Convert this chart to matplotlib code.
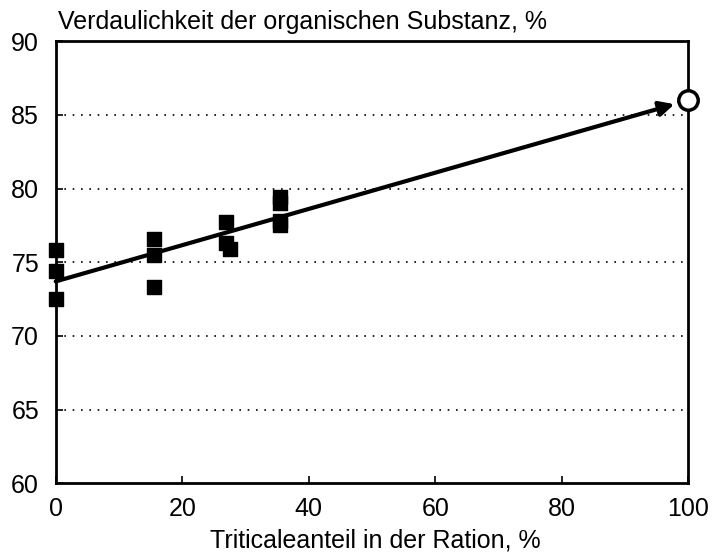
import matplotlib
matplotlib.use('Agg')
import matplotlib.pyplot as plt

plt.rcParams['font.family'] = ['Liberation Sans', 'DejaVu Sans']

# Messpunkte
x_punkte = [0, 0, 0, 15.5, 15.5, 15.5, 27, 27, 27.5, 35.5, 35.5, 35.5, 35.5]
y_punkte = [75.8, 74.4, 72.5, 76.6, 75.5, 73.3, 77.7, 76.3, 75.9, 79.4, 79.0, 77.8, 77.5]

# Regressionslinie und Extrapolation
linie_x = [0, 100]
linie_y = [73.7, 86.0]
kreis_x = [100]
kreis_y = [86.0]

x_ticks = [0, 20, 40, 60, 80, 100]
y_ticks = [60, 65, 70, 75, 80, 85, 90]
gitter_y = [65, 70, 75, 80, 85]

fig = plt.figure(figsize=(7.14, 5.58), dpi=100)
ax = fig.add_axes([0.078, 0.134, 0.886, 0.792])

for g in gitter_y:
    ax.axhline(g, color='black', linestyle=(0, (1, 4)), linewidth=1.2, zorder=1)

# Pfeil von Start bis zum Kreis
ax.annotate('', xy=(linie_x[1] - 2.2, linie_y[0] + (linie_y[1] - linie_y[0]) * 0.978),
            xytext=(linie_x[0], linie_y[0]),
            arrowprops=dict(arrowstyle='-|>', color='black', lw=3,
                            mutation_scale=22, shrinkA=0, shrinkB=0),
            zorder=3)

ax.scatter(x_punkte, y_punkte, marker='s', s=90, color='black', zorder=4, clip_on=False)
ax.plot(kreis_x, kreis_y, marker='o', markersize=14, markerfacecolor='white',
        markeredgecolor='black', markeredgewidth=2.5, linestyle='none', zorder=5, clip_on=False)

ax.set_xlim(0, 100)
ax.set_ylim(60, 90)
ax.set_xticks(x_ticks)
ax.set_yticks(y_ticks)
ax.tick_params(direction='in', length=5, width=1.2, labelsize=18)
ax.tick_params(axis='x', pad=10)
ax.tick_params(axis='y', pad=12)
for s in ax.spines.values():
    s.set_linewidth(2)

fig.text(0.081, 0.96, 'Verdaulichkeit der organischen Substanz, %', fontsize=18,
         ha='left', va='center')
fig.text(0.525, 0.032, 'Triticaleanteil in der Ration, %', fontsize=18,
         ha='center', va='center')

plt.savefig('out.png', dpi=100)
plt.close()
